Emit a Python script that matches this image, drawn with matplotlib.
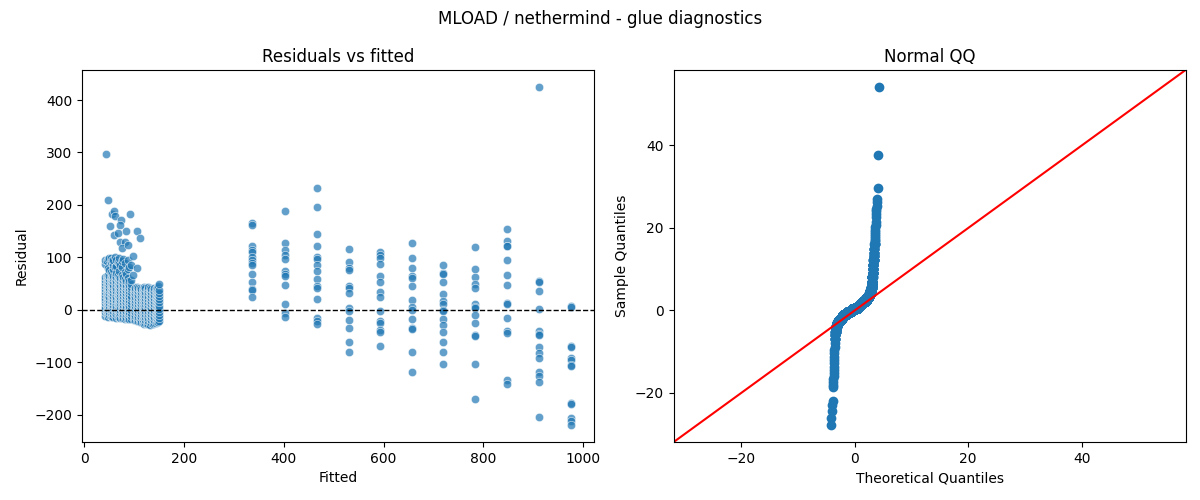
from statistics import NormalDist

import numpy as np
import matplotlib
matplotlib.use("Agg")
import matplotlib.pyplot as plt
import seaborn as sns

# --- residuals vs fitted: dense low-fitted cluster, one column per fitted level
cluster_fitted = [42, 45, 47, 50, 53, 56, 58, 61, 64, 67, 69, 72, 75, 78,
                  81, 84, 87, 90, 93,
                  99, 102, 105, 108, 111, 114, 117, 120, 122, 125, 128, 131,
                  134, 137, 140, 143, 145, 148, 150]
cluster_resid = [
    [-11, -5, 1, 6, 12, 18, 23, 29, 34, 40, 46, 51, 57, 62, 88, 95],
    [-9, -3, 3, 9, 14, 20, 26, 31, 37, 43, 49, 54, 60, 64, 93],
    [-13, -7, -1, 5, 10, 16, 22, 27, 33, 39, 44, 50, 55, 61, 66, 80, 97],
    [-10, -4, 2, 8, 13, 19, 25, 32, 38, 42, 48, 53, 59, 65, 75, 98],
    [-12, -6, 0, 6, 11, 17, 24, 30, 36, 41, 47, 52, 58, 63, 72, 92, 99],
    [-13, -4, 4, 8, 14, 21, 27, 33, 39, 45, 50, 56, 62, 68, 95],
    [-14, -8, -2, 3, 9, 15, 20, 26, 31, 37, 43, 48, 54, 60, 65, 77, 86, 95],
    [-12, -6, 1, 7, 12, 18, 23, 29, 35, 40, 46, 53, 58, 64, 82, 100],
    [-15, -9, -3, 2, 8, 14, 19, 25, 31, 36, 42, 49, 55, 62, 70, 83, 94],
    [-13, -5, 0, 5, 11, 17, 24, 28, 34, 41, 47, 52, 59, 67, 92],
    [-14, -8, -2, 4, 10, 16, 21, 27, 33, 38, 44, 50, 56, 63, 74, 89, 98],
    [-15, -7, -1, 6, 12, 19, 24, 30, 36, 42, 48, 54, 61, 85],
    [-16, -10, -4, 1, 7, 13, 18, 24, 30, 35, 41, 47, 53, 59, 66, 81, 93],
    [-15, -9, -2, 3, 9, 15, 21, 27, 32, 38, 44, 49, 56, 63, 96],
    [-17, -11, -5, 0, 6, 12, 17, 23, 29, 34, 40, 46, 52, 58, 72, 90],
    [-16, -8, -3, 3, 8, 14, 20, 26, 31, 37, 43, 48, 55, 68],
    [-17, -11, -6, 0, 5, 11, 17, 22, 28, 34, 39, 45, 51, 60, 78, 95],
    [-18, -9, -4, 2, 8, 14, 19, 25, 30, 36, 42, 47, 54, 82],
    [-18, -12, -6, -1, 5, 11, 16, 22, 27, 33, 39, 44, 50, 57, 86],
    [-20, -14, -8, -2, 4, 10, 16, 22, 28, 34, 40],
    [-19, -11, -5, 1, 7, 13, 19, 25, 31, 37, 42],
    [-22, -16, -10, -4, 2, 8, 14, 20, 26, 32, 38, 43],
    [-21, -13, -7, -1, 5, 11, 17, 23, 29, 35, 41],
    [-23, -17, -11, -5, 1, 7, 13, 19, 25, 31, 37, 42],
    [-24, -14, -8, -2, 4, 10, 16, 22, 28, 34, 39],
    [-25, -19, -13, -7, -1, 5, 11, 17, 23, 29, 35, 40],
    [-27, -16, -10, -4, 2, 8, 14, 20, 26, 32, 38, 43],
    [-26, -20, -14, -8, -2, 4, 10, 16, 22, 28, 34, 41],
    [-28, -17, -11, -5, 1, 7, 13, 19, 25, 31, 37],
    [-27, -21, -15, -9, -3, 3, 9, 15, 21, 27, 33, 39, 44],
    [-29, -18, -12, -6, 0, 6, 12, 18, 24, 30, 36, 42],
    [-26, -20, -14, -8, -2, 4, 10, 16, 22, 28, 34, 40],
    [-27, -17, -11, -5, 1, 7, 13, 19, 25, 31, 38],
    [-25, -19, -13, -7, -1, 5, 11, 17, 23, 29, 35, 41],
    [-26, -16, -10, -4, 2, 8, 14, 20, 26, 33, 39],
    [-24, -18, -12, -6, 0, 6, 12, 18, 24, 30, 36, 42],
    [-24, -13, -7, -1, 5, 11, 17, 23, 29, 35, 45],
    [-22, -16, -10, -4, 2, 8, 14, 20, 26, 32, 38, 49],
]

# scattered points above the cluster
outlier_fitted = [44, 47, 55, 60, 62, 91, 52, 74, 72, 84, 105,
                  112, 60, 68, 72, 82, 75, 87, 97, 105, 98]
outlier_resid = [297, 210, 183, 188, 178, 183, 159, 172, 161, 150, 150,
                 137, 142, 146, 129, 129, 118, 124, 102, 80, 67]

# higher fitted levels, one column each
column_fitted = [337, 402, 466, 530, 593, 657, 720, 783, 848, 912, 975]
column_resid = [
    [166, 162, 122, 114, 111, 100, 95, 90, 86, 69, 52, 39, 37, 24],
    [189, 128, 114, 105, 97, 73, 69, 64, 48, 10, -6, -13],
    [232, 196, 145, 121, 100, 97, 86, 73, 59, 46, 41, 20, -16, -22, -27],
    [116, 91, 80, 76, 45, 41, 32, 3, -3, -19, -35, -61, -80],
    [110, 105, 99, 87, 65, 52, 33, 24, -3, -22, -25, -39, -43, -70],
    [127, 98, 79, 64, 61, 45, 18, 6, 0, -18, -35, -37, -80, -119],
    [85, 70, 69, 52, 30, 16, 11, 0, -3, -18, -29, -43, -61, -80, -104],
    [120, 78, 62, 50, 41, 10, 6, 3, -10, -25, -48, -51, -104, -171],
    [154, 131, 122, 121, 95, 66, 47, 13, 10, -16, -41, -45, -134, -141],
    [425, 54, 52, 36, 1, -41, -46, -48, -71, -83, -92, -119, -127, -138, -205],
    [8, 5, -70, -72, -92, -96, -105, -107, -177, -180, -207, -213, -220],
]

# --- normal QQ: sorted sample as a frequency table (value, how many)
qq_values = [-27.8, -26.0, -24.3, -23.0, -21.9, -18.6, -18.0, -17.3, -16.6,
             -15.9, -15.2, -14.4, -13.6, -12.8, -12.0, -11.2, -10.4, -9.6,
             -8.8, -8.0, -7.0, -6.0, -5.2, -4.4, -3.7, -3.1, -2.5, -2.0,
             -1.6, -1.2, -0.85, -0.45, -0.1, 0.25,
             0.7, 1.1, 1.5, 2.0, 2.4, 2.9, 3.4, 4.0, 4.6, 5.4, 6.2, 7.0,
             8.0, 9.0, 10.0, 11.0, 12.2, 13.2, 14.0, 15.0, 16.0,
             16.8, 17.2, 17.6, 18.0, 18.5, 19.0, 19.6, 20.2, 20.8, 21.5,
             22.6, 23.3, 24.0, 24.7, 25.4, 26.2, 27.0, 29.6, 37.8, 54.2]
qq_counts = [1] * 20 + [5, 5, 10, 20, 40, 100, 300, 500, 1000, 3000,
                        5000, 10000, 10000, 20000,
                        20000, 10000, 10000, 5000, 3000, 1000, 500, 200, 100,
                        50, 30, 20, 15, 15, 10, 10, 10, 5, 5, 5, 5] + [1] * 20


def normal_qq(ax, values, counts):
    sample = np.repeat(values, counts)
    n = sample.size
    pos = np.arange(1, n + 1) / (n + 1)
    nd = NormalDist()
    theo = np.array([nd.inv_cdf(p) for p in pos])
    ax.plot(theo, sample, marker='o', markerfacecolor='C0',
            markeredgecolor='C0', linestyle='none')
    # 45 degree reference line over the common range
    lo = min(ax.get_xlim()[0], ax.get_ylim()[0])
    hi = max(ax.get_xlim()[1], ax.get_ylim()[1])
    ax.plot([lo, hi], [lo, hi], 'r-')
    ax.set_xlim(lo, hi)
    ax.set_ylim(lo, hi)
    ax.set_xlabel('Theoretical Quantiles')
    ax.set_ylabel('Sample Quantiles')


fitted = []
resid = []
for fx, col in zip(cluster_fitted, cluster_resid):
    fitted += [fx] * len(col)
    resid += col
fitted += outlier_fitted
resid += outlier_resid
for fx, col in zip(column_fitted, column_resid):
    fitted += [fx] * len(col)
    resid += col

fig, (ax1, ax2) = plt.subplots(1, 2, figsize=(12, 5), dpi=100)

sns.scatterplot(x=np.array(fitted), y=np.array(resid), alpha=0.7, ax=ax1)
ax1.axhline(0, color='black', linestyle='--', lw=1)
ax1.set_title('Residuals vs fitted')
ax1.set_xlabel('Fitted')
ax1.set_ylabel('Residual')

normal_qq(ax2, qq_values, qq_counts)
ax2.set_title('Normal QQ')

fig.suptitle('MLOAD / nethermind - glue diagnostics')
fig.subplots_adjust(left=0.0683, right=0.988, bottom=0.116, top=0.86,
                    wspace=0.156)
fig.savefig('out.png', dpi=100)
